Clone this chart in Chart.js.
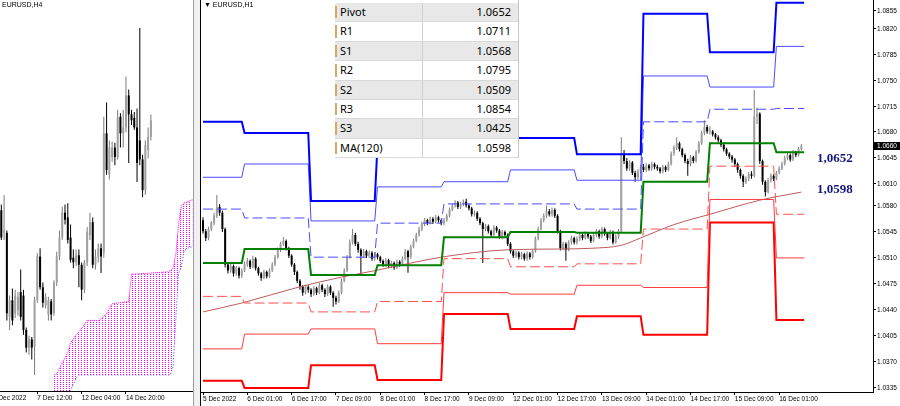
<!DOCTYPE html>
<html>
<head>
<meta charset="utf-8">
<title>EURUSD H4 / H1</title>
<script src="https://cdn.jsdelivr.net/npm/chart.js@4.4.1/dist/chart.umd.min.js"></script>
<style>
  html, body { margin: 0; padding: 0; }
  body { width: 900px; height: 406px; position: relative; overflow: hidden; background: #fff; font-family: "Liberation Sans", Arial, sans-serif; }
  canvas { position: absolute; top: 0; }
  #h4 { left: 0; }
  #h1 { left: 200px; }
  #split { position: absolute; left: 193px; top: 0; width: 8px; height: 406px; background: #f0f0f0; border-left: 1px solid #a0a0a0; border-right: 1px solid #000; box-sizing: border-box; }
  .sym { position: absolute; top: 1px; font-size: 7px; color: #000; white-space: nowrap; }
  #pivtab { position: absolute; left: 335px; top: 0; width: 184px; padding-top: 3px; background: #fff; font: 11px "Noto Sans", sans-serif; color: #000; border-right: 1px solid #c8c8c8; box-sizing: border-box; }
  #pivtab .row { display: flex; height: 19.4px; box-sizing: border-box; border-bottom: 1px solid #d9d9d9; }
  #pivtab .row:nth-child(odd) { background: #e8e8e8; }
  #pivtab .name { width: 88px; position: relative; padding-left: 5px; line-height: 18.4px; border-right: 1px solid #d0d0d0; box-sizing: border-box; }
  #pivtab .name::before { content: ""; position: absolute; left: 0; top: 3px; bottom: 3px; width: 2px; background: #d2aa64; }
  #pivtab .val { flex: 1; text-align: right; padding-right: 7px; line-height: 18.4px; }
  .lvl { position: absolute; left: 817px; font: bold 13px "Liberation Serif", "Times New Roman", serif; color: #14147a; }
</style>
</head>
<body>
<div id="split"></div>
<canvas id="h4" width="193" height="406"></canvas>
<canvas id="h1" width="700" height="406"></canvas>
<div class="sym" style="left:2px">EURUSD,H4</div>
<div class="sym" style="left:204px">&#9660; EURUSD,H1</div>
<div id="pivtab"></div>
<div class="lvl" style="top:150px">1,0652</div>
<div class="lvl" style="top:181px">1,0598</div>
<script>
// all prices are in points above 1.0000 (1.0652 -> 652)

// ---- H4 panel (left) ----
var h4First = 3;   // index of the first visible H4 bar
var h4Open  = [582,563,563,492,506,495,498,513,510,481,466,473,467,506,543,517,502,494,505,495,521,543,559,580,576,559,542,538,544,536,515,538,561,572,536,543,550,546,647,612,627,635,627,661,647,652,679,663,660,652,641,625,599,633,644];
var h4High  = [587,595,565,510,516,515,513,532,515,483,476,475,509,546,550,521,512,509,507,523,547,565,585,587,588,570,549,549,549,538,540,568,580,576,549,554,554,661,673,641,640,639,667,664,667,695,684,667,665,668,736,629,641,652,663];
var h4Low   = [557,557,489,481,485,491,493,489,477,462,460,456,443,504,515,500,499,489,489,493,518,540,557,570,554,538,533,535,517,506,512,535,557,533,532,538,529,542,612,608,623,620,625,635,635,648,622,654,650,606,620,593,595,626,641];
var h4Close = [559,565,495,506,489,510,509,492,481,466,473,466,506,543,517,504,509,506,494,521,543,559,580,574,557,540,538,544,536,515,538,564,572,536,543,550,543,647,616,635,635,627,661,647,652,679,663,658,652,622,625,599,637,644,658];
var h4TickPos    = [0, 16, 32, 48];
var h4TickLabels = ['2 Dec 2022', '7 Dec 12:00', '12 Dec 04:00', '14 Dec 20:00'];

// ichimoku cloud (bar position, upper span, lower span)
var cloudPos    = [22,23,27,28,30,31,34,38,40,41,43,49,50,57,63,64,65,66,67,68,69,71,72];
var cloudTop    = [443,444,462,470,477,479,489,489,492,495,503,505,528,529,530,531,533,545,570,586,588,590,591];
var cloudBottom = [424,424,427,430,440,443,443,443,443,443,443,443,443,443,443,443,450,490,529,534,548,551,551];

// ---- H1 panel (right) ----
var h1Open = [
  560,545,536,548,556,566,578,570,548,500, 492,498,488,495,485,492,500,505,497,508,
  495,488,482,490,484,492,500,510,520,528, 532,522,512,500,490,478,470,462,470,466,
  460,468,462,472,466,460,470,462,455,450, 462,478,492,510,530,540,528,520,512,518,
  512,516,508,514,510,505,500,506,498,502, 496,504,500,508,518,510,524,532,540,548,
  555,560,556,562,558,564,560,556,560,566, 574,580,584,578,582,585,580,576,568,570,
  562,556,548,552,545,540,550,546,538,544, 540,528,518,512,516,510,514,508,515,510,
  518,535,548,560,566,572,568,574,566,545, 522,528,520,530,536,530,535,540,536,542,
  538,532,540,545,538,548,542,536,544,530, 538,545,650,640,630,638,624,618,626,632,
  628,634,630,636,632,630,626,632,628,636, 650,658,664,656,648,640,636,645,640,652,
  664,678,686,680,680,676,672,668,662,656, 650,646,642,636,628,620,612,616,622,620,
  700,704,640,612,598,614,620,616,624,630, 636,644,648,642,652,648,656];
var h1High = [
  564,548,551,559,570,594,582,573,550,503, 501,500,498,497,495,504,509,507,512,510,
  497,490,493,492,495,503,513,523,531,537, 534,524,514,502,492,480,472,473,472,468,
  471,470,475,474,468,473,472,464,458,465, 481,495,513,534,548,543,531,522,521,520,
  519,518,517,516,512,507,509,508,505,504, 507,506,511,521,520,527,535,543,551,558,
  563,562,565,564,567,566,562,563,569,577, 583,587,586,585,588,589,582,578,573,572,
  564,558,555,554,547,553,552,548,547,546, 542,530,520,519,518,517,516,518,517,521,
  538,551,563,569,580,575,577,576,568,547, 531,530,533,539,538,538,543,542,545,544,
  540,543,548,547,551,550,544,547,546,541, 548,672,655,644,641,640,627,629,635,636,
  637,636,639,638,635,632,635,634,639,653, 661,672,666,658,650,643,648,647,655,667,
  681,695,689,687,682,678,675,670,664,658, 652,648,644,638,630,622,619,625,626,736,
  712,706,642,614,617,623,622,627,633,639, 647,651,650,655,654,659,663];
var h1Low = [
  542,532,533,545,553,563,566,544,496,488, 489,484,485,481,482,490,497,494,495,492,
  485,478,480,481,482,490,498,508,517,525, 519,509,497,486,475,466,458,460,462,456,
  458,459,460,463,456,458,459,443,446,448, 460,476,490,508,527,525,516,486,509,509,
  509,505,505,507,502,497,497,495,495,493, 494,497,498,506,489,508,522,530,538,545,
  552,553,554,555,556,557,553,553,558,564, 572,577,575,575,579,577,573,565,565,559,
  553,502,545,542,537,538,543,535,535,537, 525,515,509,509,507,507,505,505,507,508,
  516,533,546,557,563,565,565,563,542,519, 519,505,518,527,527,527,532,533,534,535,
  529,530,537,535,536,539,533,534,527,528, 535,543,636,627,627,621,612,615,623,625,
  625,627,627,629,627,623,623,625,626,634, 647,655,653,645,637,620,633,637,638,650,
  662,675,677,676,673,669,665,659,653,647, 643,638,632,624,616,605,609,613,616,618,
  690,636,608,592,596,611,613,614,622,628, 634,641,639,640,645,646,654];
var h1Close = [
  545,536,548,556,566,578,570,548,500,492, 498,488,495,485,492,500,505,497,508,495,
  488,482,490,484,492,500,510,520,528,532, 522,512,500,490,478,470,462,470,466,460,
  468,462,472,466,460,470,462,455,450,462, 478,492,510,530,540,528,520,512,518,512,
  516,508,514,510,505,500,506,498,502,496, 504,500,508,518,510,524,532,540,548,555,
  560,556,562,558,564,560,556,560,566,574, 580,584,578,582,585,580,576,568,570,562,
  556,548,552,545,540,550,546,538,544,540, 528,518,512,516,510,514,508,515,510,518,
  535,548,560,566,572,568,574,566,545,522, 528,520,530,536,530,535,540,536,542,538,
  532,540,545,538,548,542,536,544,530,538, 545,650,640,630,638,624,618,626,632,628,
  634,630,636,632,630,626,632,628,636,650, 658,664,656,648,640,636,645,640,652,664,
  678,686,680,680,676,672,668,662,656,650, 646,642,636,628,620,612,616,622,620,700,
  704,640,612,598,614,620,616,624,630,636, 644,648,642,652,648,656,660];

var h1TickPos    = [0,16,32,48,64,80,96,112,128,144,160,176,192,208];
var h1TickLabels = ['5 Dec 2022','6 Dec 01:00','6 Dec 17:00','7 Dec 09:00','8 Dec 01:00','8 Dec 17:00','9 Dec 09:00',
                    '12 Dec 01:00','12 Dec 17:00','13 Dec 09:00','14 Dec 01:00','14 Dec 17:00','15 Dec 09:00','16 Dec 01:00'];
var priceTicks   = [855,820,785,750,715,680,645,610,580,545,510,475,440,405,370,335];

// daily pivot levels, one value per day (5,6,7,8,9,12,13,14,15,16 Dec)
var dayStart = [0,15,39,63,87,111,135,159,183,207];
var lastBar  = 217;
var r3    = [693,678,586,662,657,671,649,839,787,854];
var r2    = [618,636,559,605,612,628,614,755,740,795];
var r1    = [575,563,510,556,582,582,575,693,710,711];
var pivot = [502,521,486,499,537,544,543,612,664,652];
var s1    = [457,448,436,450,508,497,501,548,633,568];
var s2    = [386,406,413,393,462,460,472,469,588,509];
var s3    = [343,333,364,344,433,413,430,405,557,425];

// MA(120) sampled along the bars
var maPos = [0,14,35,50,61,75,86,110,128,140,151,158,170,183,201,216];
var maVal = [436,448,470,483,491,502,510,520,521,522,526,536,554,568,587,598];

var tabNames  = ['Pivot','R1','S1','R2','S2','R3','S3','MA(120)'];
var tabValues = ['1.0652','1.0711','1.0568','1.0795','1.0509','1.0854','1.0425','1.0598'];

function fmt(v) { return (1 + v / 10000).toFixed(4); }

Chart.defaults.font.family = '"Liberation Sans", Arial, sans-serif';
Chart.defaults.animation = false;
Chart.defaults.plugins.legend.display = false;
Chart.defaults.plugins.tooltip.enabled = false;

function candles(open, high, low, close, first) {
  var wick = [], body = [], wickCol = [], bodyCol = [];
  for (var i = 0; i < close.length; i++) {
    var up = close[i] >= open[i];
    wick.push({x: first + i, y: [low[i], high[i]]});
    body.push({x: first + i, y: [Math.min(open[i], close[i]), Math.max(open[i], close[i])]});
    wickCol.push(up ? '#7c7c7c' : '#000');
    bodyCol.push(up ? '#a0a0a0' : '#000');
  }
  var common = {type: 'bar', grouped: false, inflateAmount: 0, borderWidth: 0, minBarLength: 1};
  return [
    Object.assign({data: wick, backgroundColor: wickCol, maxBarThickness: 1, order: 3}, common),
    Object.assign({data: body, backgroundColor: bodyCol, maxBarThickness: 2, order: 2}, common)
  ];
}

function timeAxis(min, max, pos, labels, h) {
  return {
    type: 'linear', min: min, max: max, offset: false,
    afterBuildTicks: function (s) { s.ticks = pos.map(function (v) { return {value: v}; }); },
    afterFit: function (s) { s.height = h; s.paddingLeft = 0; s.paddingRight = 0; },
    ticks: {
      autoSkip: false, maxRotation: 0, align: 'start', padding: 0, color: '#000',
      font: {size: 6.5},
      callback: function (v, i) { return labels[i]; }
    },
    grid: {drawOnChartArea: false, tickLength: 3, color: '#000', offset: false},
    border: {color: '#000'}
  };
}

// ---- left chart: H4 with ichimoku cloud ----
var pc = document.createElement('canvas');
pc.width = 3; pc.height = 2;
var pctx = pc.getContext('2d');
pctx.fillStyle = '#ff00ff';
pctx.fillRect(0, 0, 1, 1);
var dots = pctx.createPattern(pc, 'repeat');

var h4Sets = candles(h4Open, h4High, h4Low, h4Close, h4First);
h4Sets.push({
  type: 'line', order: 6,
  data: cloudPos.map(function (p, i) { return {x: p, y: cloudTop[i]}; }),
  borderColor: '#ff00ff', borderWidth: 1, borderDash: [1, 1], pointRadius: 0,
  backgroundColor: dots, fill: '+1'
});
h4Sets.push({
  type: 'line', order: 7,
  data: cloudPos.map(function (p, i) { return {x: p, y: cloudBottom[i]}; }),
  borderColor: '#3c3cff', borderWidth: 1, borderDash: [1, 2], pointRadius: 0, fill: false
});

new Chart(document.getElementById('h4'), {
  type: 'bar',
  data: {datasets: h4Sets},
  options: {
    responsive: false,
    layout: {padding: 0},
    scales: {
      x: timeAxis(2.527, 72.2, h4TickPos, h4TickLabels, 15),
      y: {type: 'linear', min: 429.4, max: 759.6, display: false}
    }
  }
});

// ---- right chart: H1 with daily pivots ----
function levelPoints(vals) {
  var pts = [];
  vals.forEach(function (v, d) {
    var end = d + 1 < dayStart.length ? dayStart[d + 1] - 1 : lastBar;
    pts.push({x: dayStart[d], y: v}, {x: end, y: v});
  });
  return pts;
}

var levels = [
  [r3, '#0000ff', 2, []],
  [r2, '#4b4bff', 1, []],
  [r1, '#4b4bff', 1, [10, 4]],
  [pivot, '#008000', 2, []],
  [s1, '#ff5050', 1, [10, 4]],
  [s2, '#ff3c3c', 1, []],
  [s3, '#ff0000', 2, []]
];

var h1Sets = candles(h1Open, h1High, h1Low, h1Close, 0);
levels.forEach(function (l) {
  h1Sets.push({
    type: 'line', order: 0, data: levelPoints(l[0]),
    borderColor: l[1], borderWidth: l[2], borderDash: l[3], pointRadius: 0, fill: false
  });
});
h1Sets.push({
  type: 'line', order: 0,
  data: maPos.map(function (p, i) { return {x: p, y: maVal[i]}; }),
  borderColor: '#c05a5a', borderWidth: 1, pointRadius: 0, fill: false, cubicInterpolationMode: 'monotone'
});

var priceAxisLabels = {
  id: 'priceAxisLabels',
  afterDraw: function (chart) {
    var ys = chart.scales.y, ctx = chart.ctx;
    ctx.save();
    ctx.font = '6.5px "Liberation Sans", Arial';
    ctx.textBaseline = 'middle';
    ctx.fillStyle = '#000';
    ctx.strokeStyle = '#000';
    ctx.lineWidth = 1;
    priceTicks.forEach(function (v) {
      var y = Math.max(Math.round(ys.getPixelForValue(v)), 10);
      ctx.beginPath();
      ctx.moveTo(ys.left, y + 0.5);
      ctx.lineTo(ys.left + 3, y + 0.5);
      ctx.stroke();
      ctx.fillText(fmt(v), ys.left + 4, y + 1);
    });
    // current price marker
    var last = h1Close[h1Close.length - 1];
    var py = Math.round(ys.getPixelForValue(last));
    ctx.fillRect(ys.left, py - 4, 27, 8);
    ctx.fillStyle = '#fff';
    ctx.fillText(fmt(last), ys.left + 4, py + 0.5);
    ctx.restore();
  }
};

new Chart(document.getElementById('h1'), {
  type: 'bar',
  data: {datasets: h1Sets},
  plugins: [priceAxisLabels],
  options: {
    responsive: false,
    layout: {padding: {left: 1, top: 0, right: 0, bottom: 0}},
    scales: {
      x: timeAxis(-0.722, 241.87, h1TickPos, h1TickLabels, 14),
      y: {
        type: 'linear', position: 'right', min: 327.7, max: 857.7,
        afterBuildTicks: function (s) { s.ticks = priceTicks.map(function (v) { return {value: v}; }); },
        afterFit: function (s) { s.width = 27; s.paddingTop = 0; s.paddingBottom = 0; },
        ticks: {display: false},
        grid: {drawOnChartArea: false, drawTicks: false},
        border: {color: '#000'}
      }
    }
  }
});

// pivot table overlay
var tab = document.getElementById('pivtab');
tabNames.forEach(function (n, i) {
  var row = document.createElement('div');
  row.className = 'row';
  row.innerHTML = '<div class="name">' + n + '</div><div class="val">' + tabValues[i] + '</div>';
  tab.appendChild(row);
});
</script>
</body>
</html>
